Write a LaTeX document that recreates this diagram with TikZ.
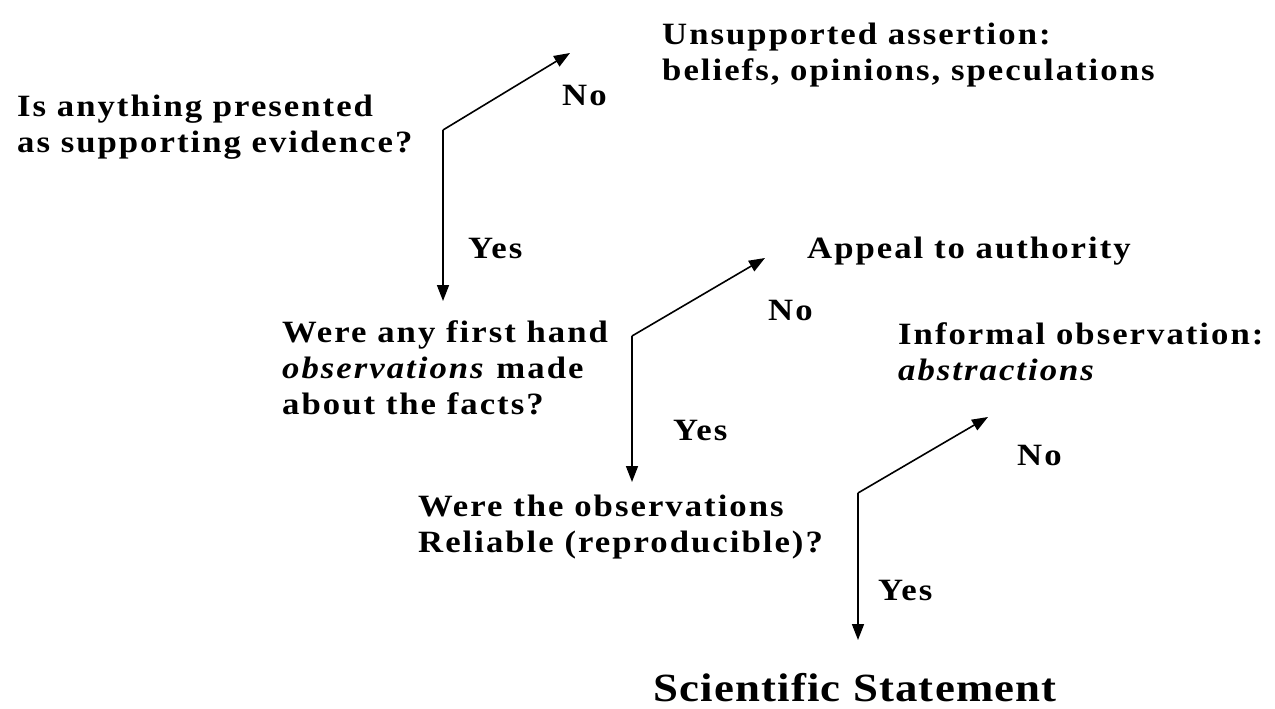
\documentclass[tikz,border=0pt]{standalone}
\usepackage{fontspec}
\setmainfont{Liberation Serif}[LetterSpace=6.5, FakeStretch=1.12]
\usepackage{tikz}
\usetikzlibrary{positioning, arrows.meta, calc}

\tikzset{
  txt/.style={anchor=base west, inner sep=0pt, align=left, font=\fontsize{31}{36}\selectfont\bfseries},
  lbl/.style={anchor=base west, inner sep=0pt, font=\fontsize{31}{36}\selectfont\bfseries},
  flow/.style={line width=1.6pt, -{Triangle[length=16pt, width=12pt]}}
}

\begin{document}
\begin{tikzpicture}[x=1pt, y=-1pt]
\useasboundingbox (0,0) rectangle (1275,709);

\node[txt] (q1) at (17,152) {Is anything presented\\as supporting evidence?};
\node[txt] (unsup) at (662,81) {Unsupported assertion:\\beliefs, opinions, speculations};
\node[txt] (q2) at (282,414) {Were any first hand\\\textit{observations} made\\about the facts?};
\node[txt] (appeal) at (807,258) {Appeal to authority};
\node[txt] (informal) at (898,380) {Informal observation:\\\textit{abstractions}};
\node[txt] (q3) at (418,552) {Were the observations\\Reliable (reproducible)?};
\node[anchor=base west, inner sep=0pt, font=\fontsize{40}{44}\selectfont\bfseries\addfontfeature{LetterSpace=3}] (sci) at (653,701) {Scientific Statement};

\coordinate (c1) at (443,130);
\coordinate (no1) at (570,53);
\coordinate (yes1) at (443,301);
\coordinate (c2) at (632,336);
\coordinate (no2) at (765,258);
\coordinate (yes2) at (632,482);
\coordinate (c3) at (858,493);
\coordinate (no3) at (988,417);
\coordinate (yes3) at (858,640);

\draw[flow] (c1) -- (no1);
\draw[flow] (c1) -- (yes1);
\draw[flow] (c2) -- (no2);
\draw[flow] (c2) -- (yes2);
\draw[flow] (c3) -- (no3);
\draw[flow] (c3) -- (yes3);

\node[lbl] (nolbl1) at (562,105) {No};
\node[lbl] (yeslbl1) at (468,258) {Yes};
\node[lbl] (nolbl2) at (768,320) {No};
\node[lbl] (yeslbl2) at (673,440) {Yes};
\node[lbl] (nolbl3) at (1017,465) {No};
\node[lbl] (yeslbl3) at (878,600) {Yes};
\end{tikzpicture}
\end{document}
